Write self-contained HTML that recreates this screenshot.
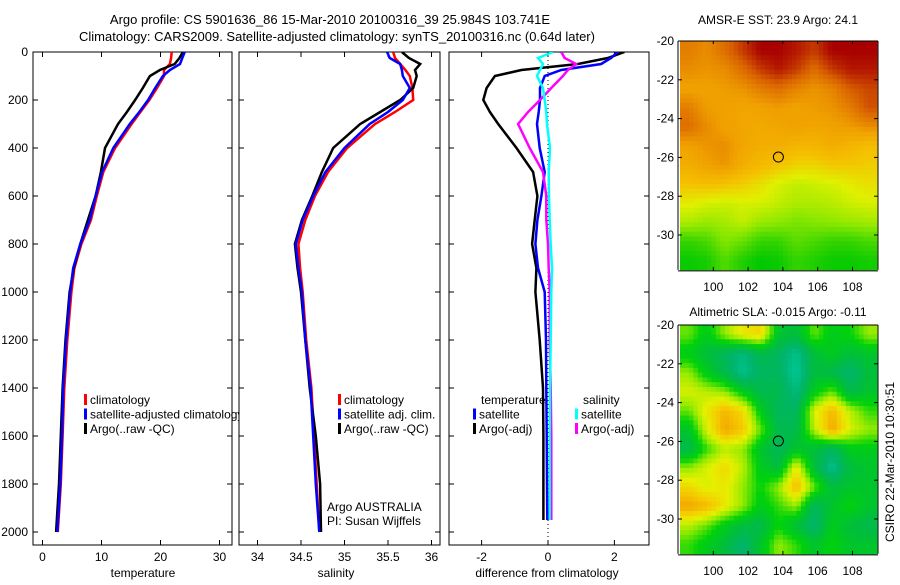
<!DOCTYPE html>
<html><head><meta charset="utf-8"><style>
body{margin:0;background:#fff;width:900px;height:580px;overflow:hidden}
svg text{font-family:"Liberation Sans",sans-serif;font-size:12px;fill:#000}
</style></head><body>
<svg id="c" width="900" height="580" xmlns="http://www.w3.org/2000/svg">
<text x="330" y="24" text-anchor="middle" style="font-size:13px">Argo profile: CS 5901636_86 15-Mar-2010 20100316_39 25.984S 103.741E</text>
<text x="337" y="41" text-anchor="middle" style="font-size:13px">Climatology: CARS2009. Satellite-adjusted climatology: synTS_20100316.nc (0.64d later)</text>
<text x="778" y="24" text-anchor="middle">AMSR-E SST: 23.9 Argo: 24.1</text>
<text x="778" y="316" text-anchor="middle">Altimetric SLA: -0.015 Argo: -0.11</text>
<text transform="translate(894,462) rotate(-90)" text-anchor="middle">CSIRO 22-Mar-2010 10:30:51</text>
</svg>
<script>
// ---- data ----
const depths=[0,25,50,75,100,150,200,250,300,400,500,600,700,800,900,1000,1200,1400,1600,1800,2000];
const tempClim=[21.9,21.8,21.6,20.6,20.6,19.4,18.1,16.6,15.1,12.3,10.3,9.2,8.2,6.6,5.4,4.9,4.2,3.7,3.4,3.1,2.6];
const tempSat=[24.1,23.7,23.3,21.6,20.4,19.1,17.9,16.4,14.8,12.0,10.1,9.0,8.0,6.4,5.2,4.7,4.0,3.5,3.3,3.0,2.5];
const tempArgo=[23.8,23.2,22.4,19.9,18.2,17.0,15.7,14.3,12.8,10.6,9.9,9.0,7.7,6.4,5.3,4.6,3.9,3.4,3.1,2.8,2.3];
const salClim=[35.56,35.58,35.64,35.70,35.75,35.78,35.79,35.58,35.35,35.03,34.81,34.66,34.55,34.47,34.49,34.52,34.56,34.62,34.65,34.68,34.71];
const salSat=[35.49,35.52,35.64,35.66,35.67,35.75,35.67,35.50,35.29,35.00,34.78,34.64,34.52,34.44,34.47,34.51,34.55,34.61,34.64,34.67,34.71];
const salArgo=[35.66,35.74,35.87,35.81,35.83,35.79,35.64,35.41,35.18,34.87,34.74,34.63,34.51,34.43,34.46,34.50,34.55,34.60,34.67,34.72,34.73];
const diffDepths=[0,25,50,75,100,150,200,250,300,400,500,600,700,800,900,1000,1200,1400,1600,1800,1950];
const dTempArgo=[2.3,1.8,0.9,-0.8,-1.6,-1.85,-1.95,-1.75,-1.5,-0.95,-0.45,-0.32,-0.4,-0.48,-0.35,-0.38,-0.25,-0.15,-0.14,-0.14,-0.14];
const dTempSat=[2.1,1.9,1.6,0.4,-0.1,-0.24,-0.24,-0.28,-0.33,-0.25,-0.1,-0.2,-0.32,-0.38,-0.3,-0.1,-0.06,-0.05,-0.04,-0.03,-0.02];
const dSalArgo=[0.4,0.5,0.85,0.6,0.45,0.1,-0.24,-0.6,-0.9,-0.55,-0.15,-0.05,-0.05,0,0.02,0.05,0.05,0.08,0.1,0.1,0.1];
const dSalSat=[0.15,-0.3,-0.15,-0.24,-0.33,-0.15,-0.1,-0.05,-0.03,0.06,0.02,0.03,0.05,0.08,0.12,0.1,0.08,0.06,0.05,0.05,0.05];
const depthTicks=[0,200,400,600,800,1000,1200,1400,1600,1800,2000];
const tempTicks=[0,10,20,30];
const salTicks=[34,34.5,35,35.5,36];
const diffTicks=[-2,0,2];
const lonTicks=[100,102,104,106,108];
const latTicks=[-20,-22,-24,-26,-28,-30];
const sstGrid=[
[24.8,24.6,25,25.5,26,26,25.8,25.5,26,26,26],
[24.6,24.5,24.6,25,25.5,25.8,25.5,25,25.5,25.8,25.8],
[24.3,24.3,24.4,24.5,24.8,25,24.7,24.5,24.7,25.2,25.4],
[24.8,24.4,24.3,24.2,24.3,24.4,24.3,24.4,24.5,24.8,25.3],
[25,24.6,24.3,24.2,24.1,24.2,24.3,24.2,24.3,24.4,24.6],
[24.3,24.5,24.6,24.2,24,24,23.8,23.8,24,23.8,23.6],
[24,24.3,24.5,24,23.7,23.5,23.2,23.2,23.4,23.4,23.3],
[23.5,23.6,23.5,23.3,23,22.6,22.4,22.5,22.6,22.8,23],
[22.8,22.6,22.5,22.6,22.6,22.4,22.2,22.2,22.3,22.5,22.6],
[22.2,22,22.1,22.4,22,21.9,21.7,21.8,21.9,22,22.1],
[21,21.2,21.8,21.5,21,21,21.4,21.2,21,21,21.2],
[20.6,20.7,21.3,20.8,20.5,20.6,21,20.8,20.6,20.6,20.7]];
const slaGrid=[
[0.1,-0.2,0.2,0.5,0.6,-0.3,-0.4,0.1,-0.2,-0.1,0.2],
[-0.2,-0.4,-0.6,-0.8,-0.5,-0.6,-0.9,-0.4,-0.2,-0.4,-0.3],
[0.2,-0.2,-0.5,-0.9,-0.6,-0.6,-1,-0.4,-0.5,-0.7,-0.4],
[0.4,0.3,0.2,-0.2,-0.5,-0.5,-0.8,-0.2,0.1,-0.5,-0.3],
[0.1,0.5,0.8,0.6,-0.2,-0.6,-0.6,0.4,0.8,0.3,0.0],
[-0.3,0.4,0.9,0.7,0.1,-0.5,-0.5,0.3,0.9,0.4,0.2],
[-0.5,0.0,0.3,0.2,-0.3,-0.6,-0.3,-0.4,-0.6,-0.2,-0.2],
[0.2,0.4,0.6,0.3,-0.2,-0.4,0.5,-0.4,-0.9,-0.4,-0.3],
[0.6,0.4,0.5,0.2,-0.1,0.2,0.8,0.1,-0.4,-0.3,-0.3],
[0.9,0.8,0.5,0.2,-0.2,0.0,0.2,-0.6,-0.3,-0.1,-0.3],
[0.3,0.1,-0.2,-0.4,-0.5,-0.1,-0.4,-0.7,-0.2,-0.4,-0.5],
[0.0,-0.2,-0.4,-0.7,-0.3,0.2,0.0,-0.3,-0.1,-0.3,-0.3]];
const argoLon=103.74, argoLat=-25.98;

// ---- drawing ----
const S=document.getElementById('c'),NS='http://www.w3.org/2000/svg';
function el(t,a,p){const e=document.createElementNS(NS,t);for(const k in a)e.setAttribute(k,a[k]);(p||S).appendChild(e);return e;}
function txt(x,y,s,anchor,name){const e=el('text',{x:x,y:y,'text-anchor':anchor||'start'});e.textContent=s;


return e;}
const yD=d=>52+0.24*d;
const panels=[
 {x0:33,x1:232,xs:v=>42.5+5.9*v,ticks:tempTicks,title:'temperature',tx:143,name:'temperature'},
 {x0:239,x1:440,xs:v=>257.5+87*(v-34),ticks:salTicks,title:'salinity',tx:336,name:'salinity'},
 {x0:449,x1:649,xs:v=>548+33.2*v,ticks:diffTicks,title:'difference from climatology',tx:547,name:'difference'}];
function line(p,xs,ys,col,name){const pts=xs.map((v,i)=>p.xs(v).toFixed(1)+','+yD(ys[i]).toFixed(1)).join(' ');
const e=el('polyline',{points:pts,fill:'none',stroke:col,'stroke-width':2.5,'clip-path':'url(#clip'+p.name+')'});

}
const defs=el('defs',{});
panels.forEach((p,i)=>{
 const cp=el('clipPath',{id:'clip'+p.name},defs);el('rect',{x:p.x0,y:52,width:p.x1-p.x0,height:493},cp);
 const g=el('rect',{x:p.x0,y:52,width:p.x1-p.x0,height:493,fill:'none',stroke:'#000','stroke-width':1});
 
 
 p.ticks.forEach(t=>{const x=p.xs(t);el('line',{x1:x,x2:x,y1:545,y2:540,stroke:'#000'});el('line',{x1:x,x2:x,y1:52,y2:57,stroke:'#000'});
  txt(x,561,String(t),'middle','x-tick-label');});
 depthTicks.forEach(d=>{const y=yD(d);el('line',{x1:p.x0,x2:p.x0+5,y1:y,y2:y,stroke:'#000'});el('line',{x1:p.x1,x2:p.x1-5,y1:y,y2:y,stroke:'#000'});
  if(i==0)txt(28,y+4,String(d),'end','depth-tick-label');});
 txt(p.tx,577,p.title,'middle','x-axis-title');
});
const p0=panels[0],p1=panels[1],p2=panels[2];
line(p0,tempClim,depths,'#f00','temp-climatology-line');
line(p0,tempArgo,depths,'#000','temp-argo-line');
line(p0,tempSat,depths,'#00f','temp-satellite-line');
line(p1,salClim,depths,'#f00','sal-climatology-line');
line(p1,salArgo,depths,'#000','sal-argo-line');
line(p1,salSat,depths,'#00f','sal-satellite-line');
el('line',{x1:548,x2:548,y1:52,y2:545,stroke:'#000','stroke-dasharray':'1,3'});
line({xs:p2.xs,name:'difference'},dTempArgo,diffDepths,'#000','dtemp-argo-line');
line({xs:p2.xs,name:'difference'},dTempSat,diffDepths,'#00f','dtemp-satellite-line');
line({xs:p2.xs,name:'difference'},dSalArgo,diffDepths,'#f0f','dsal-argo-line');
line({xs:p2.xs,name:'difference'},dSalSat,diffDepths,'#0ff','dsal-satellite-line');
// legends
function leg(x,y,col,label){el('rect',{x:x,y:y-10,width:3,height:11,fill:col});txt(x+6,y,label,'start','legend-entry');}
const lc=el('clipPath',{id:'legclip'},defs);el('rect',{x:0,y:0,width:239,height:580},lc);
const lg=el('g',{'clip-path':'url(#legclip)'});
[['#f00','climatology'],['#00f','satellite-adjusted climatology'],['#000','Argo(..raw -QC)']].forEach((r,i)=>{
 el('rect',{x:84,y:394+i*14.5,width:3,height:11,fill:r[0]},lg);const t=el('text',{x:90,y:404+i*14.5},lg);t.textContent=r[1];
 
 });
leg(338,404,'#f00','climatology');leg(338,418.5,'#00f','satellite adj. clim.');leg(338,433,'#000','Argo(..raw -QC)');
txt(327,511,'Argo AUSTRALIA','start','argo-credit');txt(327,525,'PI: Susan Wijffels','start','pi-credit');
txt(481,404,'temperature','start','legend-heading');txt(583,404,'salinity','start','legend-heading');
leg(473,418.5,'#00f','satellite');leg(473,433,'#000','Argo(-adj)');
leg(575,418.5,'#0ff','satellite');leg(575,433,'#f0f','Argo(-adj)');
// maps
function interp(stops,t){t=Math.max(0,Math.min(1,t));for(let i=1;i<stops.length;i++){if(t<=stops[i][0]){const a=stops[i-1],b=stops[i],f=(t-a[0])/(b[0]-a[0]);
 return 'rgb('+[1,2,3].map(k=>Math.round(a[k]+(b[k]-a[k])*f)).join(',')+')';}}return 'rgb(0,0,0)';}
const sstStops=[[0,0,200,0],[0.25,140,232,0],[0.4,224,240,0],[0.55,245,192,0],[0.7,240,160,0],[0.85,216,96,0],[1,168,0,0]];
const slaStops=[[0,0,200,150],[0.15,0,180,110],[0.3,0,190,60],[0.45,0,210,10],[0.6,150,235,0],[0.72,230,240,0],[0.85,245,200,0],[1,240,150,0]];
function sample(grid,fr,fc){const R=grid.length,C=grid[0].length;
 fr=Math.max(0,Math.min(R-1,fr));fc=Math.max(0,Math.min(C-1,fc));
 const r0=Math.floor(fr),c0=Math.floor(fc),r1=Math.min(R-1,r0+1),c1=Math.min(C-1,c0+1),a=fr-r0,b=fc-c0;
 return (grid[r0][c0]*(1-b)+grid[r0][c1]*b)*(1-a)+(grid[r1][c0]*(1-b)+grid[r1][c1]*b)*a;}
function map(grid,top,lo,hi,stops,name){
 const x0=680,x1=877,lon=v=>713.3+17.4*(v-100),lat=v=>top+19.4*(-20-v),y1=lat(-31.8);
 const R=grid.length,C=grid[0].length,U=4,NR=R*U,NC=C*U;
 const cw=(x1-x0)/NC,ch=(y1-top)/NR;
 const g=el('g',{});
 
 
 for(let r=0;r<NR;r++)for(let c=0;c<NC;c++){
  const v=sample(grid,(r+0.5)/U-0.5,(c+0.5)/U-0.5);
  el('rect',{x:(x0+c*cw).toFixed(2),y:(top+r*ch).toFixed(2),width:(cw+0.4).toFixed(2),height:(ch+0.4).toFixed(2),fill:interp(stops,(v-lo)/(hi-lo))},g);}
 el('line',{x1:678,x2:678,y1:top,y2:y1,stroke:'#000'});el('line',{x1:878,x2:878,y1:top,y2:y1,stroke:'#000'});
 el('line',{x1:678,x2:878,y1:y1+1,y2:y1+1,stroke:'#000'});el('line',{x1:678,x2:878,y1:top,y2:top,stroke:'#000'});
 lonTicks.forEach(v=>{const x=lon(v);el('line',{x1:x,x2:x,y1:y1+1,y2:y1-3,stroke:'#000'});el('line',{x1:x,x2:x,y1:top,y2:top+3,stroke:'#000'});
  txt(x,y1+21,String(v),'middle','lon-tick-label');});
 latTicks.forEach(v=>{const y=lat(v);el('line',{x1:678,x2:682,y1:y,y2:y,stroke:'#000'});el('line',{x1:878,x2:874,y1:y,y2:y,stroke:'#000'});
  txt(674,y+4,String(v),'end','lat-tick-label');});
 const m=el('circle',{cx:lon(argoLon),cy:lat(argoLat),r:5,fill:'none',stroke:'#000'});
 
 
}
map(sstGrid,41,20.5,26,sstStops,'sst-map');
map(slaGrid,325,-1,1,slaStops,'sla-map');
</script>
</body></html>
